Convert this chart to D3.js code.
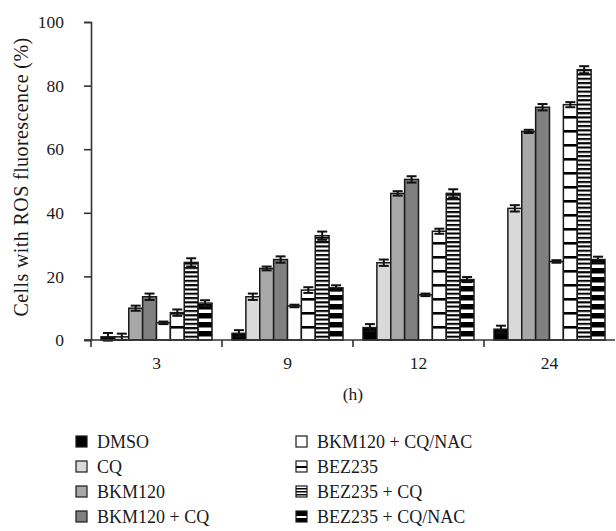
<!DOCTYPE html>
<html>
<head>
<meta charset="utf-8">
<script src="https://cdn.jsdelivr.net/npm/d3@7"></script>
<style>
  body { margin: 0; background: #fff; }
  text { font-family: "Liberation Serif", "Times New Roman", serif; fill: #1a1a1a; }
</style>
</head>
<body>
<div id="chart"></div>
<script>
// time points (h)
const times = ["3", "9", "12", "24"];
const treatments = ["DMSO", "CQ", "BKM120", "BKM120 + CQ", "BKM120 + CQ/NAC", "BEZ235", "BEZ235 + CQ", "BEZ235 + CQ/NAC"];

// mean % of cells with ROS fluorescence, one array per treatment (3, 9, 12, 24 h)
const dmso      = [1.0, 2.1, 3.9, 3.4];
const cq        = [1.0, 13.6, 24.3, 41.4];
const bkm       = [10.0, 22.5, 46.1, 65.6];
const bkmCq     = [13.6, 25.3, 50.5, 73.2];
const bkmCqNac  = [5.4, 10.7, 14.2, 24.7];
const bez       = [8.6, 15.7, 34.2, 74.0];
const bezCq     = [24.4, 32.8, 46.1, 85.0];
const bezCqNac  = [11.6, 16.4, 19.0, 25.3];

// error bars
const dmsoErr     = [1.2, 1.0, 1.1, 1.1];
const cqErr       = [1.0, 1.0, 1.0, 1.0];
const bkmErr      = [0.8, 0.6, 0.7, 0.5];
const bkmCqErr    = [1.0, 1.0, 1.0, 1.0];
const bkmCqNacErr = [0.4, 0.4, 0.4, 0.4];
const bezErr      = [1.0, 0.9, 0.8, 0.8];
const bezCqErr    = [1.3, 1.3, 1.3, 1.1];
const bezCqNacErr = [0.9, 0.8, 0.8, 0.9];

const yTicks = [0, 20, 40, 60, 80, 100];

const allValues = [dmso, cq, bkm, bkmCq, bkmCqNac, bez, bezCq, bezCqNac];
const allErrors = [dmsoErr, cqErr, bkmErr, bkmCqErr, bkmCqNacErr, bezErr, bezCqErr, bezCqNacErr];

// flatten into rows for the bars
const rows = [];
times.forEach((t, i) => {
  treatments.forEach((s, j) => {
    rows.push({ time: t, treatment: s, value: allValues[j][i], err: allErrors[j][i] });
  });
});

const width = 616, height = 531;
const plotLeft = 91, plotRight = 615, plotTop = 22, plotBottom = 340;

const svg = d3.select("#chart")
  .append("svg")
  .attr("width", width)
  .attr("height", height);

// fill patterns for the BEZ235 bars
const defs = svg.append("defs");
function stripes(id, period, black, y0) {
  const p = defs.append("pattern")
    .attr("id", id)
    .attr("patternUnits", "userSpaceOnUse")
    .attr("width", 8)
    .attr("height", period)
    .attr("y", y0);
  p.append("rect").attr("width", 8).attr("height", period).attr("fill", "#fff");
  p.append("rect").attr("y", 0).attr("width", 8).attr("height", black).attr("fill", "#000");
}
stripes("sparse", 14, 2.6, plotBottom);
stripes("dense", 4.3, 2.1, plotBottom);
stripes("thick", 9, 5.5, plotBottom);

// legend swatch versions
const legendTop = 442, legendStep = 25, sw = 11;
function legendStripes(id, y0, bands) {
  const p = defs.append("pattern")
    .attr("id", id)
    .attr("patternUnits", "userSpaceOnUse")
    .attr("width", sw).attr("height", sw)
    .attr("y", y0);
  p.append("rect").attr("width", sw).attr("height", sw).attr("fill", "#fff");
  bands.forEach(b => p.append("rect").attr("y", b[0]).attr("width", sw).attr("height", b[1]).attr("fill", "#000"));
}
legendStripes("lsparse", legendTop + legendStep - 6, [[5, 2]]);
legendStripes("ldense", legendTop + legendStep * 2 - 6, [[2, 1.5], [5, 1.5], [8, 1.5]]);
legendStripes("lthick", legendTop + legendStep * 3 - 6, [[0, 5], [7, 4]]);

const fills = {
  "DMSO": "#000",
  "CQ": "#d9d9d9",
  "BKM120": "#a8a8a8",
  "BKM120 + CQ": "#808080",
  "BKM120 + CQ/NAC": "#fff",
  "BEZ235": "url(#sparse)",
  "BEZ235 + CQ": "url(#dense)",
  "BEZ235 + CQ/NAC": "url(#thick)"
};
const legendFills = Object.assign({}, fills, {
  "BEZ235": "url(#lsparse)",
  "BEZ235 + CQ": "url(#ldense)",
  "BEZ235 + CQ/NAC": "url(#lthick)"
});

const x = d3.scaleBand()
  .domain(times)
  .range([plotLeft, plotRight]);

const xInner = d3.scaleBand()
  .domain(treatments)
  .range([10, x.bandwidth() - 10]);

const y = d3.scaleLinear()
  .domain([0, 100])
  .range([plotBottom, plotTop]);

// bars
svg.append("g")
  .selectAll("rect")
  .data(rows)
  .enter().append("rect")
  .attr("x", d => x(d.time) + xInner(d.treatment))
  .attr("y", d => y(d.value))
  .attr("width", xInner.bandwidth())
  .attr("height", d => y(0) - y(d.value))
  .attr("fill", d => fills[d.treatment])
  .attr("stroke", "#1a1a1a")
  .attr("stroke-width", 1.5);

// error bars
const capW = 10;
const eb = svg.append("g")
  .attr("stroke", "#111")
  .attr("stroke-width", 2);
rows.forEach(d => {
  const cx = x(d.time) + xInner(d.treatment) + xInner.bandwidth() / 2;
  const y1 = y(d.value + d.err), y2 = y(d.value - d.err);
  eb.append("line").attr("x1", cx).attr("x2", cx).attr("y1", y1).attr("y2", y2);
  eb.append("line").attr("x1", cx - capW / 2).attr("x2", cx + capW / 2).attr("y1", y1).attr("y2", y1);
  eb.append("line").attr("x1", cx - capW / 2).attr("x2", cx + capW / 2).attr("y1", y2).attr("y2", y2);
});

// y axis
const yAxis = svg.append("g")
  .attr("transform", `translate(${plotLeft},0)`)
  .call(d3.axisLeft(y).tickValues(yTicks).tickSize(7).tickPadding(20));
yAxis.select(".domain").attr("stroke", "#333").attr("stroke-width", 1.6);
yAxis.selectAll(".tick line").attr("stroke", "#333").attr("stroke-width", 1.6);
yAxis.selectAll(".tick text").style("font-size", "17.5px").attr("fill", "#1a1a1a");

// x axis, ticks at the group edges
svg.append("line")
  .attr("x1", plotLeft - 7).attr("x2", plotRight)
  .attr("y1", plotBottom).attr("y2", plotBottom)
  .attr("stroke", "#333").attr("stroke-width", 1.6);
svg.append("g")
  .selectAll("line")
  .data(times)
  .enter().append("line")
  .attr("x1", d => x(d)).attr("x2", d => x(d))
  .attr("y1", plotBottom).attr("y2", plotBottom + 7)
  .attr("stroke", "#333").attr("stroke-width", 1.6);
svg.append("g")
  .selectAll("text")
  .data(times)
  .enter().append("text")
  .attr("x", d => x(d) + x.bandwidth() / 2)
  .attr("y", plotBottom + 29)
  .attr("text-anchor", "middle")
  .style("font-size", "17.5px")
  .text(d => d);

// axis titles
svg.append("text")
  .attr("x", (plotLeft + plotRight) / 2)
  .attr("y", 400)
  .attr("text-anchor", "middle")
  .style("font-size", "17.5px")
  .text("(h)");

svg.append("text")
  .attr("transform", `translate(28,177) rotate(-90)`)
  .attr("text-anchor", "middle")
  .style("font-size", "20px")
  .style("letter-spacing", "0.4px")
  .text("Cells with ROS fluorescence (%)");

// legend in two columns
const legend = svg.append("g");
treatments.forEach((s, i) => {
  const col = Math.floor(i / 4), row = i % 4;
  const lx = col === 0 ? 76 : 296;
  const ly = legendTop + row * legendStep;
  legend.append("rect")
    .attr("x", lx).attr("y", ly - 6)
    .attr("width", sw).attr("height", sw)
    .attr("fill", legendFills[s])
    .attr("stroke", "#1a1a1a")
    .attr("stroke-width", 1.2);
  legend.append("text")
    .attr("x", lx + 21).attr("y", ly + 6)
    .style("font-size", "18px")
    .text(s);
});
</script>
</body>
</html>
